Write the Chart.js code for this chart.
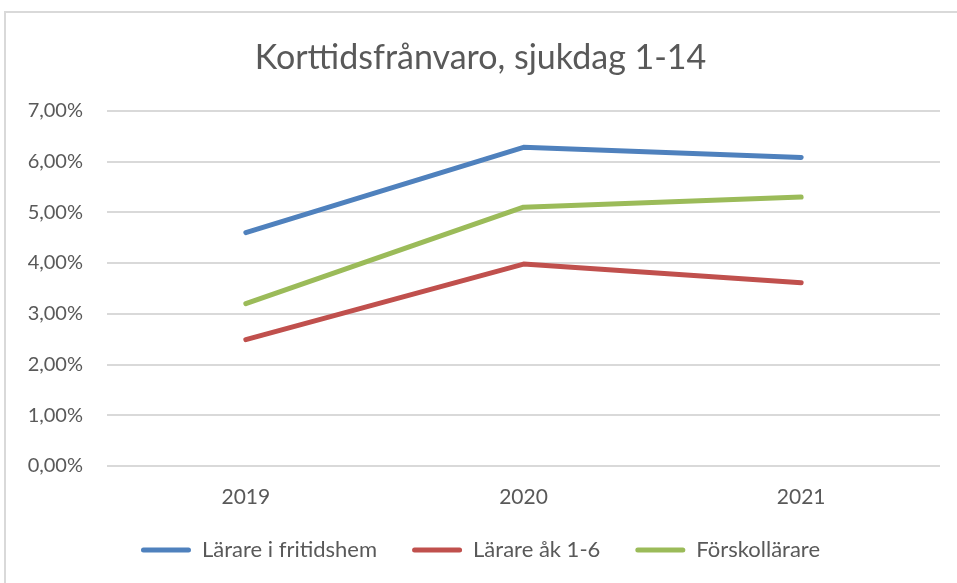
<!DOCTYPE html>
<html>
<head>
<meta charset="utf-8">
<script src="https://cdn.jsdelivr.net/npm/chart.js@4"></script>
<style>
html,body{margin:0;padding:0;background:#fff;}
#wrap{position:relative;width:957px;height:583px;overflow:hidden;}
#frame{position:absolute;left:4px;top:11px;width:1000px;height:1000px;border:2px solid #d9d9d9;box-sizing:border-box;pointer-events:none;}
canvas{position:absolute;left:0;top:0;}
</style>
</head>
<body>
<div id="wrap"><canvas id="c" width="957" height="583"></canvas><div id="frame"></div></div>
<script>
const title = 'Korttidsfrånvaro, sjukdag 1-14';
const categories = ['2019', '2020', '2021'];
const seriesNames = ['Lärare i fritidshem', 'Lärare åk 1-6', 'Förskollärare'];
const fritidshem = [0.0460, 0.0628, 0.0608];
const ak16 = [0.0249, 0.0398, 0.0361];
const forskola = [0.0320, 0.0510, 0.0530];
const yTicks = [0, 0.01, 0.02, 0.03, 0.04, 0.05, 0.06, 0.07];
const colors = ['#4F81BD', '#C0504D', '#9BBB59'];

const FONT = 'Lato, "Open Sans", sans-serif';
const TXT = '#595959';

function ds(label, data, color) {
  return {label, data, borderColor: color, backgroundColor: color, borderWidth: 5,
    pointRadius: 0, pointHoverRadius: 0, tension: 0, fill: false,
    borderCapStyle: 'round', borderJoinStyle: 'round'};
}

new Chart(document.getElementById('c'), {
  type: 'line',
  data: {
    labels: categories,
    datasets: [ds(seriesNames[0], fritidshem, colors[0]), ds(seriesNames[1], ak16, colors[1]), ds(seriesNames[2], forskola, colors[2])]
  },
  options: {
    responsive: false,
    animation: false,
    layout: {padding: {left: 21, right: 17, top: 0, bottom: 12}},
    plugins: {
      title: {display: true, text: title, color: TXT, font: {family: FONT, size: 34, weight: 'normal'}, padding: {top: 38, bottom: 32}},
      legend: {position: 'bottom', labels: {color: TXT, font: {family: FONT, size: 22}, boxWidth: 50, boxHeight: 5, padding: 35,
        useBorderRadius: true, borderRadius: 2.5,
        generateLabels: ch => Chart.defaults.plugins.legend.labels.generateLabels(ch).map(l => Object.assign(l, {lineWidth: 0}))}},
      tooltip: {enabled: false}
    },
    scales: {
      x: {
        offset: true,
        grid: {display: false, drawTicks: false},
        border: {display: false},
        ticks: {color: TXT, font: {family: FONT, size: 21}, padding: 19},
        afterFit: s => { s.height = 38; }
      },
      y: {
        min: 0, max: 0.07,
        afterBuildTicks: s => { s.ticks = yTicks.map(v => ({value: v})); },
        grid: {color: '#d9d9d9', lineWidth: 2, drawTicks: false},
        border: {display: false},
        ticks: {color: TXT, font: {family: FONT, size: 20}, padding: 24,
          callback: v => (v * 100).toFixed(2).replace('.', ',') + '%'},
        afterFit: s => { s.width = 86; }
      }
    }
  }
});
</script>
</body>
</html>
